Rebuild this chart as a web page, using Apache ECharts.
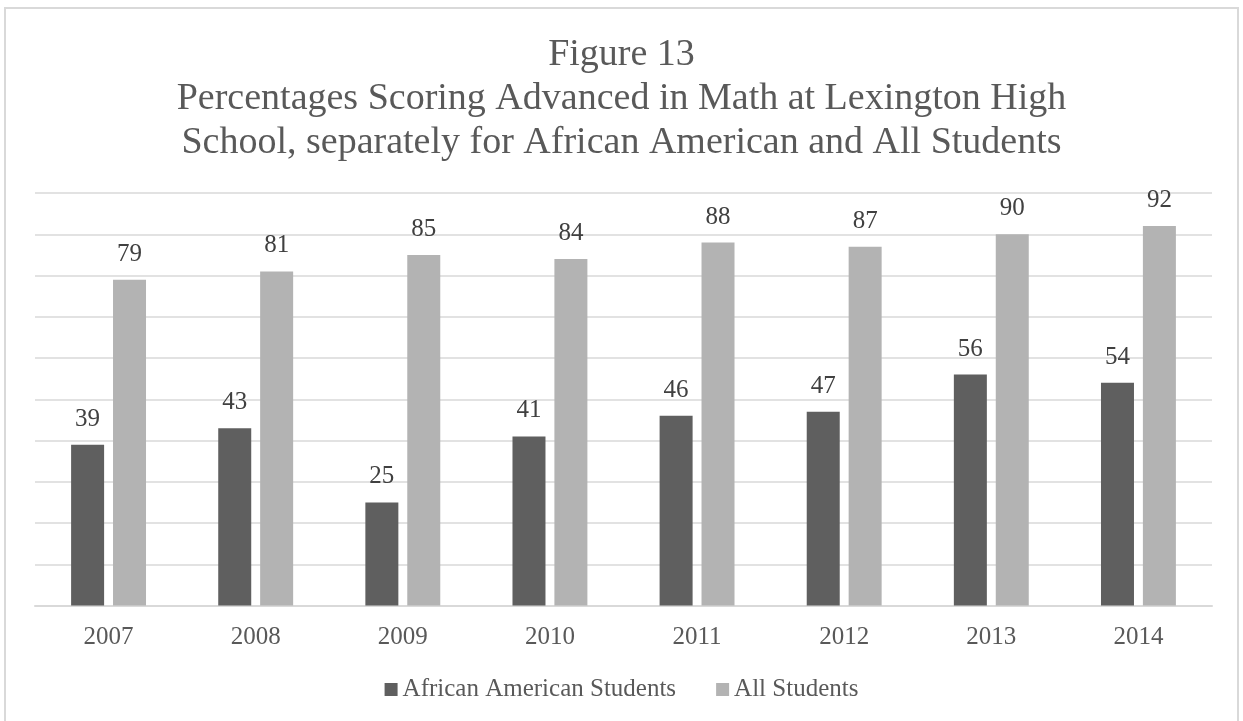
<!DOCTYPE html>
<html>
<head>
<meta charset="utf-8">
<script src="https://cdn.jsdelivr.net/npm/echarts@6/dist/echarts.min.js"></script>
<style>
  html, body { margin: 0; padding: 0; background: #ffffff; }
  #chart { width: 1243px; height: 721px; position: relative; }
  #frame { position: absolute; left: 4px; top: 7px; width: 1235px; height: 730px;
           border: 2px solid #d9d9d9; box-sizing: border-box; pointer-events: none; }
</style>
</head>
<body>
<div style="position:relative;width:1243px;height:721px;overflow:hidden;">
  <div id="chart"></div>
  <div id="frame"></div>
</div>
<script>
const titleLines = [
  'Figure 13',
  'Percentages Scoring Advanced in Math at Lexington High',
  'School, separately for African American and All Students'
];
const years = ['2007', '2008', '2009', '2010', '2011', '2012', '2013', '2014'];
const seriesNames = ['African American Students', 'All Students'];
const africanAmerican = [39, 43, 25, 41, 46, 47, 56, 54];
const allStudents = [79, 81, 85, 84, 88, 87, 90, 92];
const yTicks = { min: 0, max: 100, interval: 10 };

const FONT = 'Liberation Serif';
const chart = echarts.init(document.getElementById('chart'), null, { renderer: 'canvas' });

const labelStyle = {
  show: true,
  position: 'top',
  distance: 13,
  fontFamily: FONT,
  fontSize: 25,
  color: '#404040'
};

chart.setOption({
  animation: false,
  backgroundColor: '#ffffff',
  textStyle: { fontFamily: FONT },
  title: {
    text: titleLines.join('\n'),
    left: 'center',
    top: 28,
    textStyle: {
      fontFamily: FONT,
      fontSize: 38,
      lineHeight: 44,
      fontWeight: 'normal',
      color: '#595959'
    }
  },
  legend: {
    data: seriesNames,
    left: 'center',
    top: 672,
    icon: 'rect',
    itemWidth: 13,
    itemHeight: 13,
    itemGap: 40,
    textStyle: { fontFamily: FONT, fontSize: 25, color: '#595959' }
  },
  grid: { left: 35, right: 31, top: 193, bottom: 115.5, containLabel: false },
  xAxis: {
    type: 'category',
    data: years,
    axisLine: { show: true, lineStyle: { color: '#d9d9d9', width: 2 } },
    axisTick: { show: false },
    axisLabel: { fontFamily: FONT, fontSize: 25, color: '#595959', margin: 19 }
  },
  yAxis: {
    type: 'value',
    min: yTicks.min,
    max: yTicks.max,
    interval: yTicks.interval,
    axisLine: { show: false },
    axisTick: { show: false },
    axisLabel: { show: false },
    splitLine: { lineStyle: { color: '#d9d9d9', width: 1.5 } }
  },
  series: [
    {
      name: seriesNames[0],
      type: 'bar',
      data: africanAmerican,
      barWidth: 33,
      barGap: '27%',
      itemStyle: { color: '#5f5f5f' },
      label: labelStyle
    },
    {
      name: seriesNames[1],
      type: 'bar',
      data: allStudents,
      barWidth: 33,
      barGap: '27%',
      itemStyle: { color: '#b3b3b3' },
      label: labelStyle
    }
  ]
});
</script>
</body>
</html>
